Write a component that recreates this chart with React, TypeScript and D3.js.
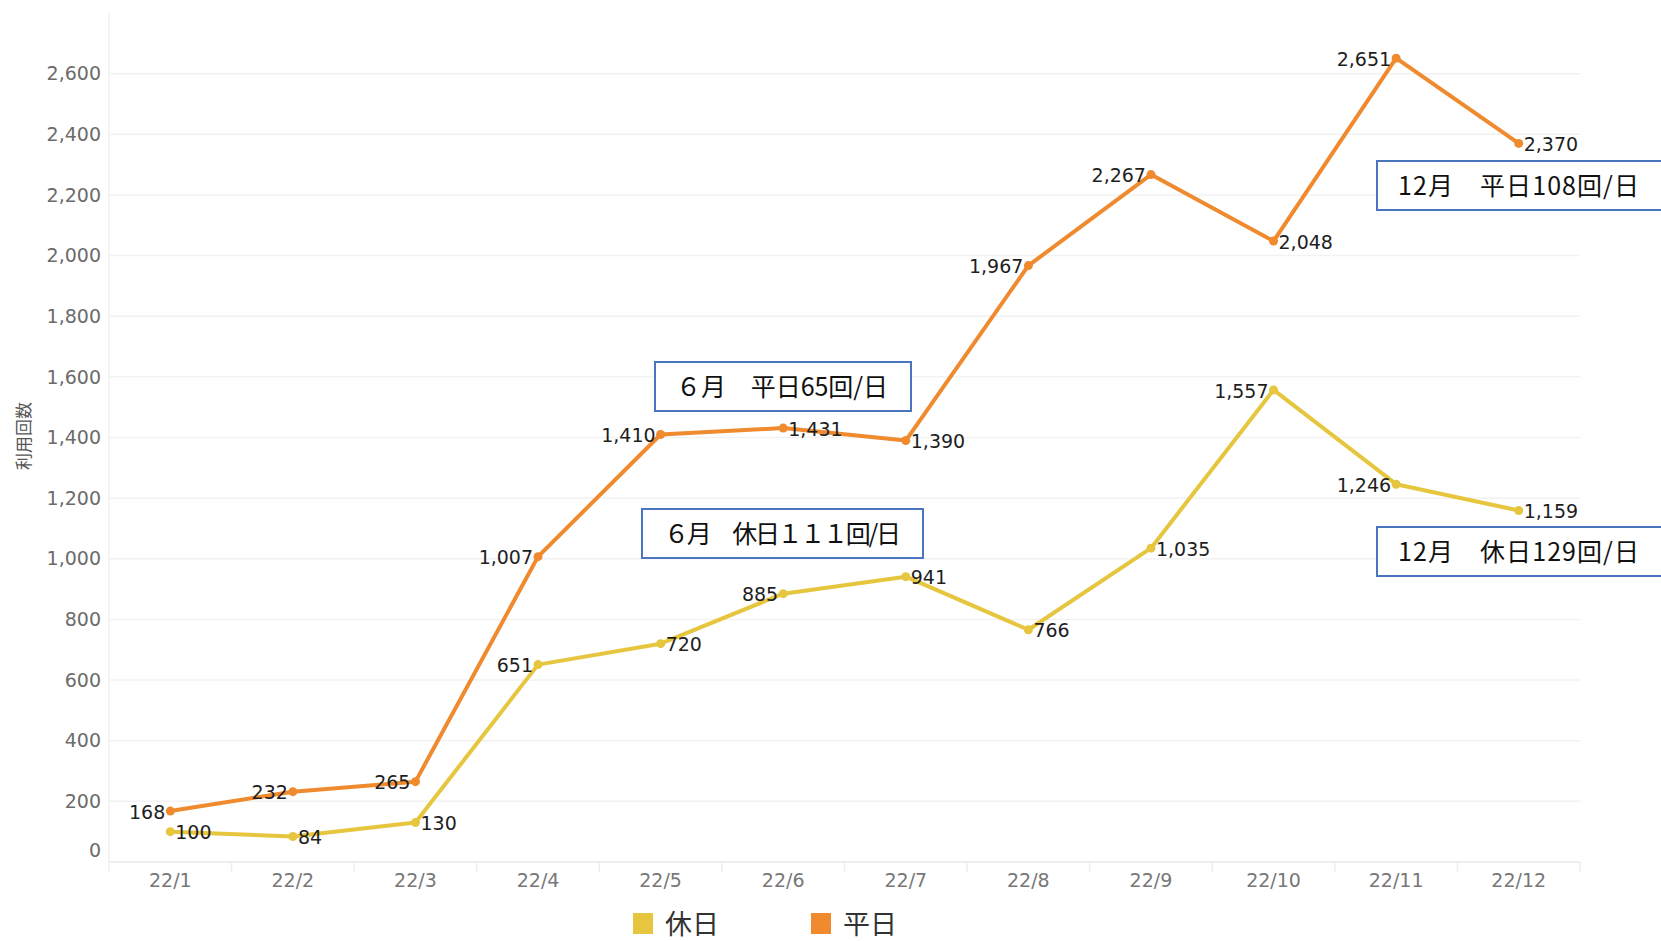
import React from "react";
import * as d3 from "d3";

// 月別利用回数（平日 / 休日）の折れ線グラフ
const months = ["22/1", "22/2", "22/3", "22/4", "22/5", "22/6", "22/7", "22/8", "22/9", "22/10", "22/11", "22/12"];
const weekday = [168, 232, 265, 1007, 1410, 1431, 1390, 1967, 2267, 2048, 2651, 2370];
const holiday = [100, 84, 130, 651, 720, 885, 941, 766, 1035, 1557, 1246, 1159];
// label side per point: "l" = left of the point, "r" = right
const weekdaySide = ["l", "l", "l", "l", "l", "r", "r", "l", "l", "r", "l", "r"];
const holidaySide = ["r", "r", "r", "l", "r", "l", "r", "r", "r", "l", "l", "r"];
const yTicks = [0, 200, 400, 600, 800, 1000, 1200, 1400, 1600, 1800, 2000, 2200, 2400, 2600];
const noteTexts = ["６月　平日65回/日", "６月　休日１１１回/日", "12月　平日108回/日", "12月　休日129回/日"];

const W = 1661;
const H = 941;
const ORANGE = "#ef8a2e";
const YELLOW = "#e6c63f";
const FONT = "'DejaVu Sans', Verdana, sans-serif";
const JP = "'Noto Sans CJK JP', sans-serif";

// box placement for the call-outs
const boxes = [
  { x: 655, y: 362, w: 256, h: 49, tx: 676, tl: 212 },
  { x: 642, y: 509, w: 281, h: 49, tx: 664, tl: 237 },
  { x: 1377, y: 161, w: 300, h: 49, tx: 1398, tl: 241 },
  { x: 1377, y: 527, w: 300, h: 49, tx: 1398, tl: 241 },
];

export default function App() {
  const x = d3.scaleBand().domain(months).range([109, 1580]);
  const y = d3.scaleLinear().domain([0, 2800]).range([862, 13]);
  const cx = (m: string) => (x(m) ?? 0) + x.bandwidth() / 2;
  const line = d3
    .line<number>()
    .x((_, i) => cx(months[i]))
    .y((d) => y(d));

  const series = [
    { name: "休日", values: holiday, sides: holidaySide, color: YELLOW },
    { name: "平日", values: weekday, sides: weekdaySide, color: ORANGE },
  ];
  const fmt = d3.format(",");

  return (
    <svg width={W} height={H} style={{ position: "absolute", left: 0, top: 0, background: "#fff" }}>
      {/* grid */}
      {yTicks.map((t) => (
        <line key={t} x1={109} x2={1580} y1={y(t)} y2={y(t)} stroke={t === 0 ? "#e8e8e8" : "#f2f2f2"} strokeWidth={1.5} />
      ))}
      <line x1={109} x2={109} y1={13} y2={872} stroke="#f0f0f0" strokeWidth={1.5} />
      {months.map((m) => (
        <line key={m} x1={(x(m) ?? 0) + x.bandwidth()} x2={(x(m) ?? 0) + x.bandwidth()} y1={862} y2={872} stroke="#eeeeee" strokeWidth={1.5} />
      ))}

      {/* y tick labels */}
      {yTicks.map((t) => (
        <text key={t} x={101} y={t === 0 ? y(t) - 12 : y(t)} dy="0.35em" textAnchor="end" fontFamily={FONT} fontSize={19} fill="#6b6b6b">
          {fmt(t)}
        </text>
      ))}
      {/* x tick labels */}
      {months.map((m) => (
        <text key={m} x={cx(m)} y={880} dy="0.35em" textAnchor="middle" fontFamily={FONT} fontSize={19} fill="#777">
          {m}
        </text>
      ))}
      <text transform="translate(24,436) rotate(-90)" textAnchor="middle" dy="0.35em" fontFamily={JP} fontSize={17} fill="#555">
        利用回数
      </text>

      {/* lines */}
      {series.map((s) => (
        <g key={s.name}>
          <path d={line(s.values) ?? ""} fill="none" stroke={s.color} strokeWidth={4} strokeLinejoin="round" />
          {s.values.map((v, i) => (
            <circle key={i} cx={cx(months[i])} cy={y(v)} r={4.5} fill={s.color} />
          ))}
        </g>
      ))}
      {series.map((s) =>
        s.values.map((v, i) => (
          <text
            key={s.name + i}
            x={cx(months[i]) + (s.sides[i] === "l" ? -5 : 5)}
            y={y(v) + 1}
            dy="0.35em"
            textAnchor={s.sides[i] === "l" ? "end" : "start"}
            fontFamily={FONT}
            fontSize={19}
            fill="#1e1e1e"
          >
            {fmt(v)}
          </text>
        ))
      )}

      {/* annotation boxes */}
      {noteTexts.map((t, i) => {
        const b = boxes[i];
        return (
          <g key={t}>
            <rect x={b.x} y={b.y} width={b.w} height={b.h} fill="#fff" stroke="#4a76c0" strokeWidth={2} />
            <text
              x={b.tx}
              y={b.y + b.h / 2}
              dy="0.36em"
              fontFamily={JP}
              fontSize={25}
              textLength={b.tl}
              lengthAdjust="spacing"
              fill="#111"
            >
              {t}
            </text>
          </g>
        );
      })}

      {/* legend */}
      {series.map((s, i) => (
        <g key={s.name} transform={`translate(${633 + i * 178},913)`}>
          <rect width={20} height={21} fill={s.color} />
          <text x={32} y={11} dy="0.36em" fontFamily={JP} fontSize={27} fill="#333">
            {s.name}
          </text>
        </g>
      ))}
    </svg>
  );
}
